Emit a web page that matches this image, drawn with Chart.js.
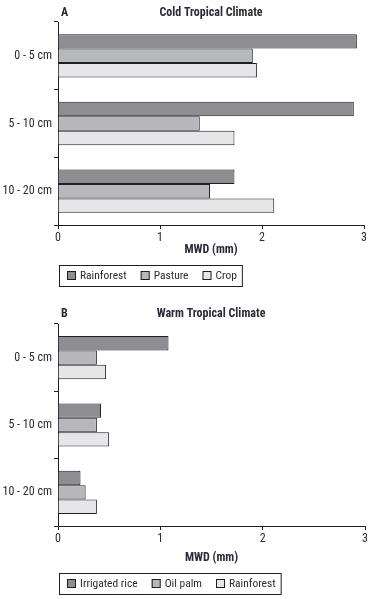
<!DOCTYPE html>
<html>
<head>
<meta charset="utf-8">
<script src="https://cdn.jsdelivr.net/npm/chart.js@4/dist/chart.umd.min.js"></script>
<style>
  html, body { margin: 0; padding: 0; background: #fff; }
  #wrap { position: relative; width: 370px; height: 599px; }
  canvas { position: absolute; left: 0; }
</style>
</head>
<body>
<div id="wrap">
  <canvas id="chartA" width="370" height="300" style="top:0"></canvas>
  <canvas id="chartB" width="370" height="299" style="top:300px"></canvas>
</div>
<script>
// Dados (MWD em mm)
const depths = ['0 - 5 cm', '5 - 10 cm', '10 - 20 cm'];
const xTicks = [0, 1, 2, 3];

const coldLabels = ['Rainforest', 'Pasture', 'Crop'];
const coldRainforest = [2.93, 2.90, 1.73];
const coldPasture = [1.91, 1.39, 1.49];
const coldCrop = [1.95, 1.73, 2.12];

const warmLabels = ['Irrigated rice', 'Oil palm', 'Rainforest'];
const warmRice = [1.08, 0.42, 0.22];
const warmOilPalm = [0.38, 0.38, 0.27];
const warmRainforest = [0.47, 0.50, 0.38];

const fills = ['#8e8e92', '#b7b8bc', '#e6e6e8'];
const edge = '#1e1e24';
const textColor = '#2a2a38';
const narrow = '"Roboto Condensed", "Liberation Sans", Arial, sans-serif';

// Títulos, eixo X e legenda com caixa
const decorPlugin = {
    id: 'decor',
    afterDraw(chart, args, opts) {
        const ctx = chart.ctx;
        const area = chart.chartArea;
        ctx.save();
        ctx.fillStyle = textColor;
        ctx.textBaseline = 'middle';

        ctx.font = 'bold 12px ' + narrow;
        ctx.textAlign = 'left';
        ctx.fillText(opts.letter, 61, opts.titleY);
        ctx.textAlign = 'center';
        ctx.fillText(opts.title, 211, opts.titleY);
        ctx.fillText('MWD (mm)', (area.left + area.right) / 2, opts.axisTitleY);

        // legenda
        ctx.font = '11.5px ' + narrow;
        ctx.textAlign = 'left';
        const box = opts.legendBox;
        const cy = box.y + box.h / 2;
        let x = box.x + 8;
        chart.data.datasets.forEach(ds => {
            ctx.fillStyle = ds.backgroundColor;
            ctx.fillRect(x, cy - 4.5, 9, 9);
            ctx.strokeStyle = edge;
            ctx.lineWidth = 1;
            ctx.strokeRect(x + 0.5, cy - 4, 8, 8);
            x += 13;
            ctx.fillStyle = textColor;
            ctx.fillText(ds.label, x, cy + 0.5);
            x += ctx.measureText(ds.label).width + 14;
        });
        const w = x - 14 + 5 - box.x;
        ctx.strokeStyle = edge;
        ctx.strokeRect(box.x + 0.5, box.y + 0.5, w, box.h);
        ctx.restore();
    }
};

function makeChart(canvasId, labels, series, decor, pad, xHeight) {
    const ctx = document.getElementById(canvasId).getContext('2d');
    return new Chart(ctx, {
        type: 'bar',
        data: {
            labels: depths,
            datasets: series.map((values, i) => ({
                label: labels[i],
                data: values,
                backgroundColor: fills[i],
                borderColor: edge,
                borderWidth: 1,
                barPercentage: 1.0,
                categoryPercentage: 0.64
            }))
        },
        options: {
            indexAxis: 'y',
            responsive: false,
            animation: false,
            layout: { padding: pad },
            plugins: {
                legend: { display: false },
                tooltip: { enabled: false },
                decor: decor
            },
            scales: {
                x: {
                    min: xTicks[0],
                    max: xTicks[xTicks.length - 1],
                    afterFit: scale => { scale.height = xHeight; },
                    afterBuildTicks: scale => { scale.ticks = xTicks.map(v => ({ value: v })); },
                    ticks: {
                        stepSize: 1,
                        padding: 2,
                        color: textColor,
                        font: { family: narrow, size: 12 },
                        maxRotation: 0
                    },
                    grid: { drawOnChartArea: false, drawTicks: true, tickLength: 4, color: edge },
                    border: { display: true, color: edge, width: 1 }
                },
                y: {
                    afterFit: scale => { scale.width = 58; },
                    ticks: {
                        padding: 2,
                        color: textColor,
                        font: { family: narrow, size: 12 }
                    },
                    grid: { drawOnChartArea: false, drawTicks: true, tickLength: 4, color: edge, offset: true },
                    border: { display: true, color: edge, width: 1 }
                }
            }
        },
        plugins: [decorPlugin]
    });
}

makeChart('chartA', coldLabels, [coldRainforest, coldPasture, coldCrop],
    { letter: 'A', title: 'Cold Tropical Climate', titleY: 13, axisTitleY: 250,
      legendBox: { x: 59, y: 265, h: 21 } },
    { top: 22, right: 6, bottom: 40, left: 0 }, 35);

makeChart('chartB', warmLabels, [warmRice, warmOilPalm, warmRainforest],
    { letter: 'B', title: 'Warm Tropical Climate', titleY: 14, axisTitleY: 258,
      legendBox: { x: 59, y: 273, h: 21 } },
    { top: 24, right: 5, bottom: 38, left: 0 }, 35);
</script>
</body>
</html>
